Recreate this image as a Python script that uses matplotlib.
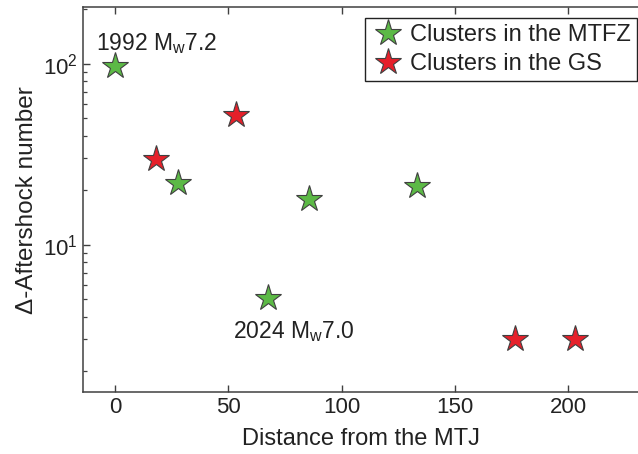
import numpy as np
import matplotlib
matplotlib.use('Agg')
import matplotlib.pyplot as plt

plt.rcParams['font.family'] = ['Liberation Sans', 'DejaVu Sans']
plt.rcParams['mathtext.fontset'] = 'custom'
plt.rcParams['mathtext.rm'] = 'Liberation Sans'
plt.rcParams['mathtext.it'] = 'Liberation Sans:italic'

# clusters in the MTFZ (green)
mtfz_dist = [0, 27.7, 85.8, 133.5, 67.6]
mtfz_num = [97, 22, 18, 21.2, 5.05]

# clusters in the GS (red)
gs_dist = [18.1, 53.2, 176.7, 203.2]
gs_num = [29.7, 52.3, 3.0, 3.0]

green = '#5cb946'
red = '#e5202a'
edge = '#404040'

fig = plt.figure(figsize=(6.38, 4.54), dpi=100)
ax = fig.add_axes([83/638, 1 - 392.3/454, 1 - 83/638 + 0.002, (392.3 - 7.3)/454])

ax.plot(mtfz_dist, mtfz_num, linestyle='none', marker='*', ms=20,
        mfc=green, mec=edge, mew=0.8, label='Clusters in the MTFZ')
ax.plot(gs_dist, gs_num, linestyle='none', marker='*', ms=20,
        mfc=red, mec=edge, mew=0.8, label='Clusters in the GS')

ax.set_yscale('log')
ax.set_xlim(-14.2, 231.5)
ax.set_ylim(1.53, 205)
ax.set_xticks([0, 50, 100, 150, 200])

ax.text(-8.4, 119, '1992 M$_{\\rm w}$7.2', fontsize=16.5, va='baseline', color='#222222')
ax.text(51.9, 3.06, '2024 M$_{\\rm w}$7.0', fontsize=16.5, va='baseline', color='#222222')

ax.set_xlabel('Distance from the MTJ', fontsize=17, color='#222222', labelpad=7)
ax.set_ylabel('\u0394-Aftershock number', fontsize=17.5, color='#222222', labelpad=4)

for s in ['left', 'bottom', 'top']:
    ax.spines[s].set_color(edge)
    ax.spines[s].set_linewidth(1.1)
ax.spines['right'].set_visible(False)
ax.tick_params(which='major', direction='in', length=5, width=1, color=edge,
               top=True, right=False, labelsize=16, labelcolor='#222222')
ax.tick_params(which='minor', direction='in', length=3, width=0.9, color=edge,
               top=False, right=False)
ax.tick_params(axis='x', which='minor', bottom=False)

leg = ax.legend(loc='upper right', bbox_to_anchor=(637/638, 1 - 18/454),
                bbox_transform=fig.transFigure, borderaxespad=0,
                fontsize=17, fancybox=False, framealpha=1, edgecolor='#222222',
                numpoints=1, handlelength=1.45, handletextpad=0.2,
                borderpad=0.25, labelspacing=0.3)
leg.get_frame().set_linewidth(1.0)
for t in leg.get_texts():
    t.set_color('#222222')

fig.savefig('out.png', dpi=100)
